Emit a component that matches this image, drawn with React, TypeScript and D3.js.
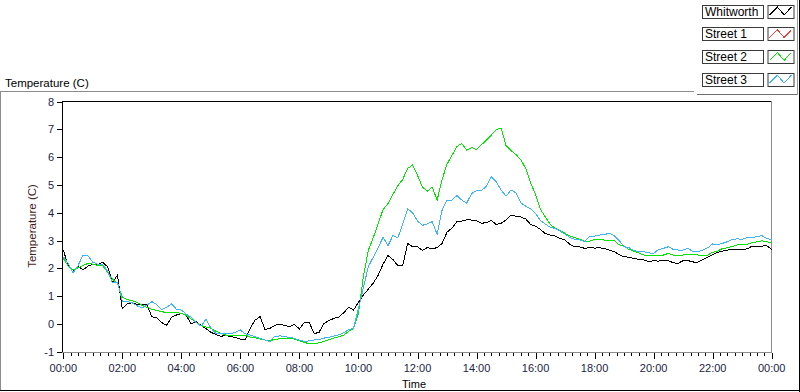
import React from 'react';
import * as d3 from 'd3';

// one reading every 10 minutes, 00:00 .. 24:00
const minutes = d3.range(0, 1441, 10);

const whitworth = [
  2.66, 2.10, 1.93, 2.07, 1.95, 2.08, 2.14, 2.12, 2.22, 2.06,
  1.50, 1.75, 0.55, 0.72, 0.77, 0.70, 0.70, 0.68, 0.26, 0.22,
  0.05, -0.05, 0.24, 0.32, 0.38, 0.30, 0.00, 0.08, -0.05, -0.17,
  -0.30, -0.38, -0.45, -0.41, -0.46, -0.48, -0.55, -0.57, -0.15, 0.14,
  0.26, -0.20, -0.16, -0.05, -0.01, -0.05, -0.10, -0.02, -0.18, 0.05,
  0.05, -0.35, -0.30, 0.02, 0.12, 0.20, 0.25, 0.40, 0.60, 0.50,
  0.78, 1.04, 1.25, 1.47, 1.75, 2.15, 2.46, 2.32, 2.10, 2.10,
  2.90, 2.78, 2.78, 2.65, 2.75, 2.70, 2.75, 2.90, 3.30, 3.45,
  3.68, 3.70, 3.75, 3.74, 3.72, 3.62, 3.65, 3.72, 3.58, 3.62,
  3.74, 3.92, 3.88, 3.85, 3.78, 3.58, 3.52, 3.40, 3.25, 3.20,
  3.16, 3.08, 3.02, 2.86, 2.78, 2.77, 2.72, 2.75, 2.73, 2.74,
  2.72, 2.66, 2.60, 2.49, 2.42, 2.40, 2.36, 2.32, 2.30, 2.24,
  2.28, 2.26, 2.30, 2.28, 2.20, 2.18, 2.28, 2.28, 2.23, 2.22,
  2.32, 2.40, 2.50, 2.58, 2.62, 2.66, 2.68, 2.68, 2.68, 2.70,
  2.80, 2.80, 2.80, 2.82, 2.68,
];

// Street 1 has no visible trace in the picture
const street1: number[] = [];

const street2 = [
  2.36, 2.08, 1.95, 2.02, 2.10, 2.18, 2.15, 2.10, 2.10, 1.85,
  1.62, 1.45, 0.97, 0.88, 0.83, 0.78, 0.67, 0.60, 0.53, 0.49,
  0.44, 0.41, 0.41, 0.41, 0.38, 0.31, 0.18, 0.05, -0.06, -0.11,
  -0.16, -0.26, -0.34, -0.40, -0.42, -0.43, -0.43, -0.40, -0.48, -0.50,
  -0.54, -0.58, -0.60, -0.56, -0.53, -0.51, -0.51, -0.55, -0.60, -0.67,
  -0.71, -0.71, -0.68, -0.63, -0.56, -0.51, -0.46, -0.40, -0.27, -0.16,
  0.38, 1.70, 2.65, 3.10, 3.60, 4.12, 4.33, 4.66, 4.98, 5.20,
  5.60, 5.72, 5.35, 4.93, 4.78, 4.92, 4.46, 5.20, 5.75, 6.07,
  6.38, 6.50, 6.25, 6.35, 6.28, 6.45, 6.61, 6.80, 7.00, 7.05,
  6.42, 6.24, 6.10, 5.91, 5.60, 5.08, 4.66, 4.13, 3.84, 3.58,
  3.44, 3.37, 3.26, 3.17, 3.11, 3.05, 2.96, 2.98, 3.04, 3.04,
  3.02, 3.02, 3.00, 2.85, 2.79, 2.68, 2.62, 2.55, 2.48, 2.47,
  2.45, 2.48, 2.48, 2.54, 2.48, 2.48, 2.48, 2.51, 2.50, 2.48,
  2.48, 2.48, 2.58, 2.62, 2.72, 2.74, 2.79, 2.84, 2.87, 2.87,
  2.92, 2.96, 2.99, 2.96, 2.90,
];

const street3 = [
  2.42, 2.18, 1.84, 2.10, 2.48, 2.46, 2.22, 2.15, 2.15, 1.90,
  1.48, 1.50, 0.82, 0.80, 0.76, 0.65, 0.58, 0.68, 0.80, 0.70,
  0.52, 0.60, 0.72, 0.53, 0.50, 0.35, 0.24, 0.05, -0.08, 0.17,
  -0.15, -0.34, -0.34, -0.36, -0.35, -0.30, -0.22, -0.36, -0.40, -0.46,
  -0.52, -0.58, -0.63, -0.45, -0.43, -0.46, -0.48, -0.52, -0.58, -0.63,
  -0.61, -0.58, -0.56, -0.51, -0.48, -0.44, -0.39, -0.32, -0.20, -0.16,
  0.55, 1.30, 2.06, 2.40, 2.75, 3.12, 2.82, 3.18, 3.10, 3.60,
  4.15, 4.00, 3.70, 3.55, 3.60, 3.68, 3.22, 4.10, 4.45, 4.46,
  4.62, 4.46, 4.35, 4.69, 4.80, 4.81, 4.95, 5.30, 5.12, 4.82,
  4.60, 4.82, 4.72, 4.36, 4.24, 4.14, 3.98, 3.72, 3.59, 3.48,
  3.43, 3.34, 3.23, 3.11, 3.04, 3.02, 2.96, 3.16, 3.16, 3.20,
  3.22, 3.26, 3.18, 3.00, 2.78, 2.74, 2.65, 2.60, 2.60, 2.56,
  2.54, 2.68, 2.72, 2.78, 2.68, 2.66, 2.66, 2.72, 2.60, 2.60,
  2.66, 2.74, 2.88, 2.86, 2.90, 2.96, 3.05, 3.06, 3.05, 3.10,
  3.11, 3.14, 3.18, 3.08, 3.02,
];

const seriesNames = ['Whitworth', 'Street 1', 'Street 2', 'Street 3'];
const seriesValues = [whitworth, street1, street2, street3];
const seriesColors = ['#000000', '#f03c3c', '#00e600', '#3cb4f5'];

const yTicks = [-1, 0, 1, 2, 3, 4, 5, 6, 7, 8];
const xMajor = d3.range(0, 1441, 120);
const xMinor = d3.range(0, 1441, 15);
const xTickLabels = ['00:00', '02:00', '04:00', '06:00', '08:00', '10:00', '12:00',
  '14:00', '16:00', '18:00', '20:00', '22:00', '00:00'];

const font = '"Liberation Sans", Arial, sans-serif';

const App: React.FC = () => {
  const width = 800;
  const height = 392;
  const left = 63.3, right = 771.7, top = 101.7, bottom = 351.7;

  const x = d3.scaleLinear().domain([0, 1440]).range([left, right]);
  const y = d3.scaleLinear().domain([-1, 8]).range([bottom, top]);
  const line = d3.line<number>((d, i) => x(minutes[i]), (d) => y(d));

  const legendX = 702, legendTop = 4.5, legendStep = 22.7;

  return (
    <svg width={width} height={height} style={{ position: 'absolute', left: 0, top: 0, display: 'block', background: '#fff' }}
      fontFamily={font}>
      <rect x={0} y={0} width={width} height={height} fill="#fff" />

      {/* outer frame */}
      <line x1={0} x2={694} y1={91.5} y2={91.5} stroke="#8c8c8c" />
      <line x1={0.5} x2={0.5} y1={91} y2={391} stroke="#8c8c8c" />
      <line x1={0} x2={800} y1={390.5} y2={390.5} stroke="#000" />
      <line x1={799.5} x2={799.5} y1={0} y2={392} stroke="#000" />
      <line x1={697} x2={798} y1={94.5} y2={94.5} stroke="#6e6e6e" />
      <line x1={797.5} x2={797.5} y1={0} y2={95} stroke="#9a9a9a" />

      <text x={5} y={86.5} fontSize={11.5} fill="#000">Temperature (C)</text>

      {/* plot frame */}
      <line x1={62} x2={772} y1={101.5} y2={101.5} stroke="#000" />
      <line x1={62.5} x2={62.5} y1={101} y2={353} stroke="#000" />
      <line x1={62} x2={772} y1={352.5} y2={352.5} stroke="#8c8c8c" />
      <line x1={771.5} x2={771.5} y1={101} y2={353} stroke="#8c8c8c" />

      {/* y axis */}
      {yTicks.map((t) => (
        <g key={t}>
          <line x1={57} x2={62} y1={Math.round(y(t)) + 0.5} y2={Math.round(y(t)) + 0.5} stroke="#000" />
          <text x={54} y={y(t) + 4} fontSize={11} textAnchor="end" fill="#1c1c44">{t}</text>
        </g>
      ))}
      <text x={35.5} y={226} fontSize={11.5} textAnchor="middle" fill="#4b1c1c"
        transform="rotate(-90, 35.5, 226)">Temperature (C)</text>

      {/* x axis */}
      {xMinor.map((t) => (
        <line key={t} x1={Math.round(x(t)) + 0.5} x2={Math.round(x(t)) + 0.5} y1={353} y2={xMajor.includes(t) ? 359 : 356}
          stroke="#000" />
      ))}
      {xMajor.map((t, i) => (
        <text key={t} x={x(t)} y={371.5} fontSize={11} textAnchor="middle" fill="#1c1c44">{xTickLabels[i]}</text>
      ))}
      <text x={414} y={388} fontSize={11} textAnchor="middle" fill="#000">Time</text>

      {/* series */}
      <g fill="none" strokeWidth={1} shapeRendering="crispEdges">
        {seriesValues.map((vals, i) => vals.length > 0 && (
          <path key={seriesNames[i]} d={line(vals) ?? ''} stroke={seriesColors[i]} />
        ))}
      </g>

      {/* legend */}
      {seriesNames.map((name, i) => {
        const ty = legendTop + i * legendStep;
        const sx = 767.5;
        const sw = 26, sh = 13;
        const zig = [[0.08, 0.8], [0.38, 0.2], [0.64, 0.8], [0.92, 0.2]]
          .map(([a, b]) => `${sx + a * sw},${ty + b * sh}`).join(' ');
        return (
          <g key={name}>
            <rect x={legendX + 0.5} y={Math.round(ty) + 0.5} width={61} height={13} fill="#fff" stroke="#3a3a3a" />
            <text x={legendX + 3} y={Math.round(ty) + 11} fontSize={12} fill="#000">{name}</text>
            <rect x={sx + 0.5} y={Math.round(ty) + 0.5} width={sw} height={sh} fill="#fff" stroke="#3a3a3a" />
            <polyline points={zig} fill="none" stroke={seriesColors[i]} shapeRendering="crispEdges" />
          </g>
        );
      })}
    </svg>
  );
};

export default App;
